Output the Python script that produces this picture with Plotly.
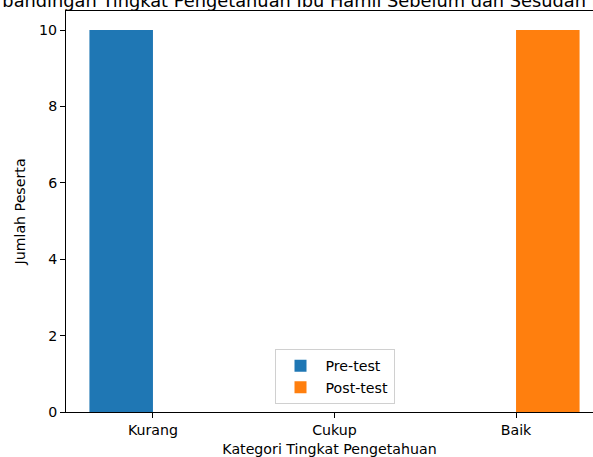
import plotly.graph_objects as go

categories = ["Kurang", "Cukup", "Baik"]
pre_test = [10, 0, 0]
post_test = [0, 0, 10]
y_ticks = [0, 2, 4, 6, 8, 10]
title_text = "Perbandingan Tingkat Pengetahuan Ibu Hamil Sebelum dan Sesudah Penyuluhan"

xpos = list(range(len(categories)))
W = 0.35
font = "DejaVu Sans"
fs = 14.2

fig = go.Figure()
fig.add_trace(go.Bar(x=xpos, y=pre_test, width=W, offset=-W, name="Pre-test",
                     marker=dict(color="#1f77b4", line=dict(width=0))))
fig.add_trace(go.Bar(x=xpos, y=post_test, width=W, offset=0, name="Post-test",
                     marker=dict(color="#ff7f0e", line=dict(width=0))))

fig.update_layout(
    width=593, height=457,
    margin=dict(l=66, r=0, t=11, b=45),
    paper_bgcolor="white", plot_bgcolor="white",
    font=dict(family=font, size=fs, color="black"),
    barmode="overlay",
    showlegend=True,
    legend=dict(x=0.5095, y=0.02, xanchor="center", yanchor="bottom",
                bgcolor="white", bordercolor="#d0d0d0", borderwidth=1,
                font=dict(family=font, size=fs, color="black"),
                itemwidth=40, tracegroupgap=0),
    xaxis=dict(range=[-0.479, 2.424], tickmode="array", tickvals=xpos, ticktext=categories,
               showgrid=False, zeroline=False, showline=True, linecolor="black", linewidth=1,
               mirror=True, ticks="outside", ticklen=5, tickcolor="black",
               tickfont=dict(family=font, size=fs, color="black"),
               title=dict(text="Kategori Tingkat Pengetahuan", font=dict(family=font, size=fs, color="black"),
                          standoff=7)),
    yaxis=dict(range=[0, 10.5], tickmode="array", tickvals=y_ticks,
               showgrid=False, zeroline=False, showline=True, linecolor="black", linewidth=1,
               ticks="outside", ticklen=5, tickcolor="black",
               tickfont=dict(family=font, size=fs, color="black"),
               title=dict(text="Jumlah Peserta", font=dict(family=font, size=fs, color="black"),
                          standoff=10)),
)

fig.add_annotation(text=title_text, x=1, xref="x", y=1, yref="paper",
                   xanchor="center", yanchor="bottom", yshift=-2, showarrow=False,
                   font=dict(family=font, size=17.8, color="black"))

fig.write_html("out.html", config={"displayModeBar": False},
               post_script="document.body.style.margin='0';document.body.style.overflow='hidden';")
